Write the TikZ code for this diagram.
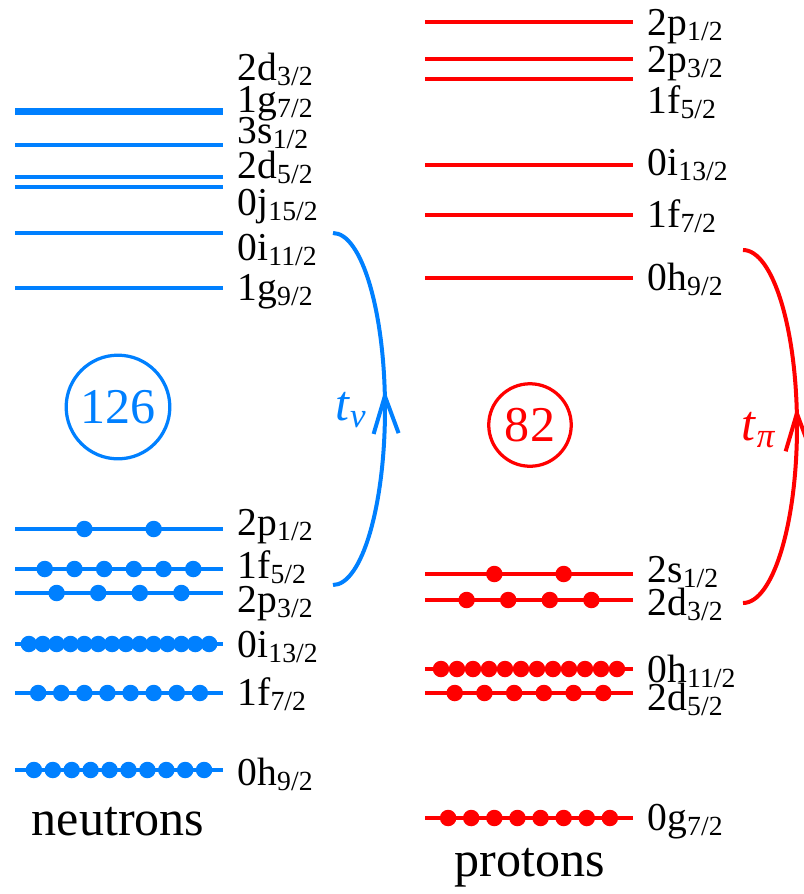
\documentclass[tikz,border=0pt]{standalone}
\usepackage{fontspec}
\setmainfont{Liberation Serif}
\usepackage{tikz}
\usetikzlibrary{arrows.meta, positioning, decorations.markings}
\definecolor{nuBlue}{HTML}{0080FF}
\definecolor{piRed}{HTML}{FF0000}
\newcommand{\orb}[2]{#1\textsubscript{#2}}
\tikzset{
    every picture/.style={
        >=Stealth,
        thick
    },
    % Level and label styles
    nlevel/.style={draw=nuBlue,line width=0.08cm},
    plevel/.style={draw=piRed,line width=0.08cm},
    lbl/.style={anchor=base west,inner sep=0pt,font=\fontsize{22.5}{25}\selectfont},
    magic/.style={circle,draw,line width=0.065cm,inner sep=0.16cm,font=\fontsize{28.5}{31}\selectfont},
    bigtext/.style={font=\fontsize{28.5}{31}\selectfont},
    % Transition arrows with the tip in the middle
    transfer/.style={line width=0.08cm,postaction={decorate},
        decoration={markings,mark=at position 0.55 with {\arrow{Straight Barb[length=0.75cm,width=0.5cm]}}}}
}

\begin{document}
\begin{tikzpicture}[x=0.02cm, y=-0.02cm]
    \useasboundingbox (0,0) rectangle (804,894);

    % Empty neutron levels
    \foreach \yy in {109.5,112.5,145,177,187,233,288}
        \draw[nlevel] (15,\yy) -- (223,\yy);

    % Occupied neutron levels (2j+1 particles each)
    \foreach \yy/\nn in {529/2,569/6,593/4,644/14,693/8,770/10} {
        \draw[nlevel] (15,\yy) -- (223,\yy);
        \foreach \k in {1,...,\nn}
            \fill[nuBlue] ({15+208*\k/(\nn+1)},\yy) circle (0.165cm);
    }

    % Empty proton levels
    \foreach \yy in {22,59,79,165,215,278}
        \draw[plevel] (425,\yy) -- (633,\yy);

    % Occupied proton levels
    \foreach \yy/\nn in {574/2,600/4,669/12,693/6,818/8} {
        \draw[plevel] (425,\yy) -- (633,\yy);
        \foreach \k in {1,...,\nn}
            \fill[piRed] ({425+208*\k/(\nn+1)},\yy) circle (0.165cm);
    }

    % Neutron labels
    \node[lbl] (nDa) at (237,80) {\orb{2d}{3/2}};
    \node[lbl] (nGa) at (237,112) {\orb{1g}{7/2}};
    \node[lbl] (nSa) at (237,143) {\orb{3s}{1/2}};
    \node[lbl] (nDb) at (237,178) {\orb{2d}{5/2}};
    \node[lbl] (nJa) at (237,215) {\orb{0j}{15/2}};
    \node[lbl] (nIa) at (237,260) {\orb{0i}{11/2}};
    \node[lbl] (nGb) at (237,300) {\orb{1g}{9/2}};
    \node[lbl] (nPa) at (237,535) {\orb{2p}{1/2}};
    \node[lbl] (nFa) at (237,578) {\orb{1f}{5/2}};
    \node[lbl] (nPb) at (237,612) {\orb{2p}{3/2}};
    \node[lbl] (nIb) at (237,657) {\orb{0i}{13/2}};
    \node[lbl] (nFb) at (237,705) {\orb{1f}{7/2}};
    \node[lbl] (nHa) at (237,785) {\orb{0h}{9/2}};

    % Proton labels
    \node[lbl] (pPa) at (647,35) {\orb{2p}{1/2}};
    \node[lbl] (pPb) at (647,72) {\orb{2p}{3/2}};
    \node[lbl] (pFa) at (647,113) {\orb{1f}{5/2}};
    \node[lbl] (pIa) at (647,175) {\orb{0i}{13/2}};
    \node[lbl] (pFb) at (647,227) {\orb{1f}{7/2}};
    \node[lbl] (pHa) at (647,290) {\orb{0h}{9/2}};
    \node[lbl] (pSa) at (647,582) {\orb{2s}{1/2}};
    \node[lbl] (pDa) at (647,615) {\orb{2d}{3/2}};
    \node[lbl] (pHb) at (647,682) {\orb{0h}{11/2}};
    \node[lbl] (pDb) at (647,710) {\orb{2d}{5/2}};
    \node[lbl] (pGa) at (647,830) {\orb{0g}{7/2}};

    % Magic numbers
    \node[magic, nuBlue] (nMagic) at (118,407) {126};
    \node[magic, piRed] (pMagic) at (530,425) {82};

    % Titles
    \node[bigtext] (nTitle) at (118,822) {neutrons};
    \node[bigtext] (pTitle) at (530,868) {protons};

    % Transition arrows
    \coordinate (nFrom) at (333,585);
    \coordinate (nTo) at (333,233);
    \draw[transfer, nuBlue] (nFrom) .. controls (361.7,585) and (385,506.2) .. (385,409)
        .. controls (385,311.8) and (361.7,233) .. (nTo);
    \node[bigtext, nuBlue] (nHop) at (351,410) {\textit{t}\textsubscript{\textit{ν}}};

    \coordinate (pFrom) at (743,603);
    \coordinate (pTo) at (743,250);
    \draw[transfer, piRed] (pFrom) .. controls (772.8,603) and (797,524) .. (797,426.5)
        .. controls (797,329) and (772.8,250) .. (pTo);
    \node[bigtext, piRed] (pHop) at (759,430) {\textit{t}\textsubscript{\textit{π}}};
\end{tikzpicture}
\end{document}
